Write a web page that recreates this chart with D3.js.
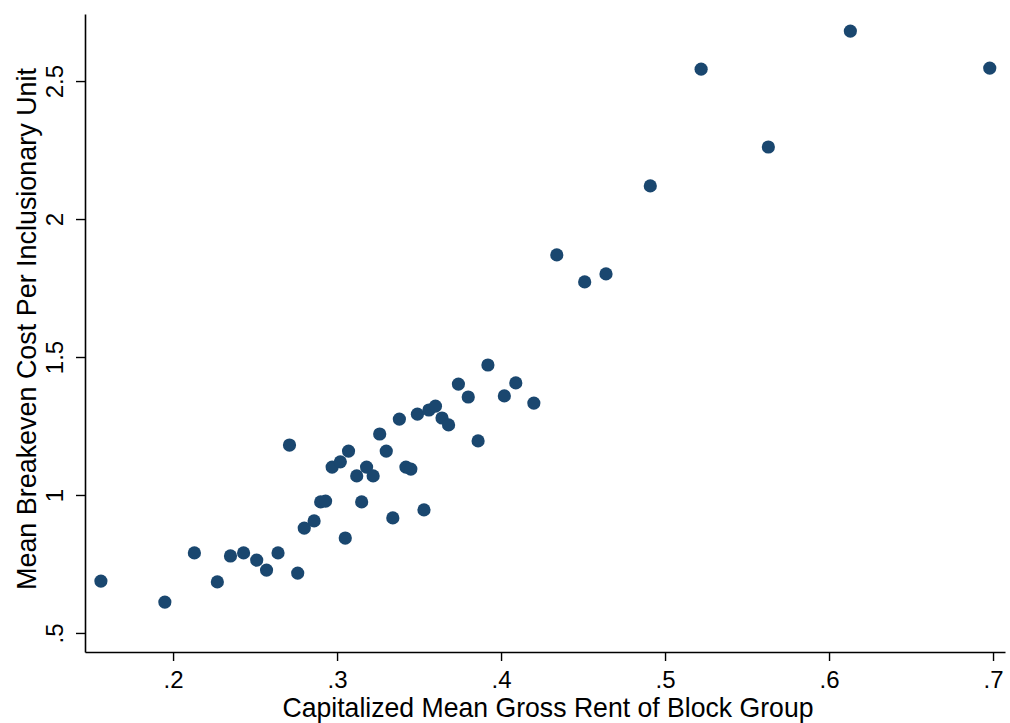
<!DOCTYPE html>
<html>
<head>
<meta charset="utf-8">
<script src="https://cdn.jsdelivr.net/npm/d3@7"></script>
<style>
  body { margin: 0; background: #fff; }
  text { font-family: "Liberation Sans", Arial, sans-serif; fill: #000; }
</style>
</head>
<body>
<svg id="chart" width="1010" height="723"></svg>
<script>
// Data: capitalized rent (x) vs breakeven cost (y)
const rentValues = [0.156, 0.195, 0.213, 0.227, 0.235, 0.243, 0.251, 0.257, 0.264, 0.271,
                    0.276, 0.280, 0.286, 0.290, 0.293, 0.297, 0.302, 0.305, 0.307, 0.312,
                    0.315, 0.318, 0.322, 0.326, 0.330, 0.334, 0.338, 0.342, 0.345, 0.349,
                    0.353, 0.356, 0.360, 0.364, 0.368, 0.374, 0.380, 0.386, 0.392, 0.402,
                    0.409, 0.420, 0.434, 0.451, 0.464, 0.491, 0.522, 0.563, 0.613, 0.698]
const costValues = [0.688, 0.612, 0.790, 0.685, 0.779, 0.790, 0.764, 0.728, 0.790, 1.181,
                    0.717, 0.880, 0.906, 0.975, 0.978, 1.101, 1.120, 0.844, 1.159, 1.069,
                    0.975, 1.101, 1.069, 1.221, 1.159, 0.917, 1.275, 1.101, 1.094, 1.293,
                    0.946, 1.308, 1.322, 1.279, 1.254, 1.402, 1.355, 1.196, 1.471, 1.359,
                    1.406, 1.333, 1.870, 1.772, 1.801, 2.120, 2.543, 2.261, 2.681, 2.547]
const xTicks = [0.2, 0.3, 0.4, 0.5, 0.6, 0.7]
const xTickLabels = [".2", ".3", ".4", ".5", ".6", ".7"]
const yTicks = [0.5, 1, 1.5, 2, 2.5]
const yTickLabels = [".5", "1", "1.5", "2", "2.5"]

const points = rentValues.map((r, i) => ({x: r, y: costValues[i]}))

const svg = d3.select("#chart")
const margin = {left: 85, right: 5, top: 14, bottom: 71}
const width = 1010 - margin.left - margin.right
const height = 723 - margin.top - margin.bottom

const xScale = d3.scaleLinear().domain([0.1463, 0.7073]).range([0, width])
const yScale = d3.scaleLinear().domain([0.431, 2.743]).range([height, 0])

const g = svg.append("g").attr("transform", `translate(${margin.left},${margin.top})`)

// x axis
const xAxis = g.append("g")
    .attr("transform", `translate(0,${height})`)
    .call(d3.axisBottom(xScale).tickValues(xTicks)
        .tickFormat((d, i) => xTickLabels[i]).tickSize(9).tickSizeOuter(0))
xAxis.select(".domain").attr("stroke", "#000").attr("stroke-width", 1.6)
xAxis.selectAll(".tick line").attr("stroke", "#000").attr("stroke-width", 1.4)
xAxis.selectAll(".tick text")
    .attr("font-size", 24).attr("font-family", "Liberation Sans")
    .attr("y", 36).attr("dy", null)

// y axis with rotated labels
const yAxis = g.append("g")
    .call(d3.axisLeft(yScale).tickValues(yTicks)
        .tickFormat((d, i) => yTickLabels[i]).tickSize(9).tickSizeOuter(0))
yAxis.select(".domain").attr("stroke", "#000").attr("stroke-width", 1.6)
yAxis.selectAll(".tick line").attr("stroke", "#000").attr("stroke-width", 1.4)
yAxis.selectAll(".tick text")
    .attr("font-size", 24).attr("font-family", "Liberation Sans")
    .attr("x", null).attr("dy", null)
    .attr("text-anchor", "middle")
    .attr("transform", "translate(-22,0) rotate(-90)")

// points
g.selectAll("circle.pt")
    .data(points)
    .enter()
    .append("circle")
        .attr("class", "pt")
        .attr("cx", d => xScale(d.x))
        .attr("cy", d => yScale(d.y))
        .attr("r", 6.6)
        .attr("fill", "#1a476f")

// axis titles
svg.append("text")
    .attr("x", 548).attr("y", 717)
    .attr("text-anchor", "middle")
    .attr("font-size", 28)
    .attr("textLength", 531).attr("lengthAdjust", "spacingAndGlyphs")
    .text("Capitalized Mean Gross Rent of Block Group")

svg.append("text")
    .attr("transform", "translate(36,329) rotate(-90)")
    .attr("text-anchor", "middle")
    .attr("font-size", 28)
    .attr("textLength", 522).attr("lengthAdjust", "spacingAndGlyphs")
    .text("Mean Breakeven Cost Per Inclusionary Unit")
</script>
</body>
</html>
